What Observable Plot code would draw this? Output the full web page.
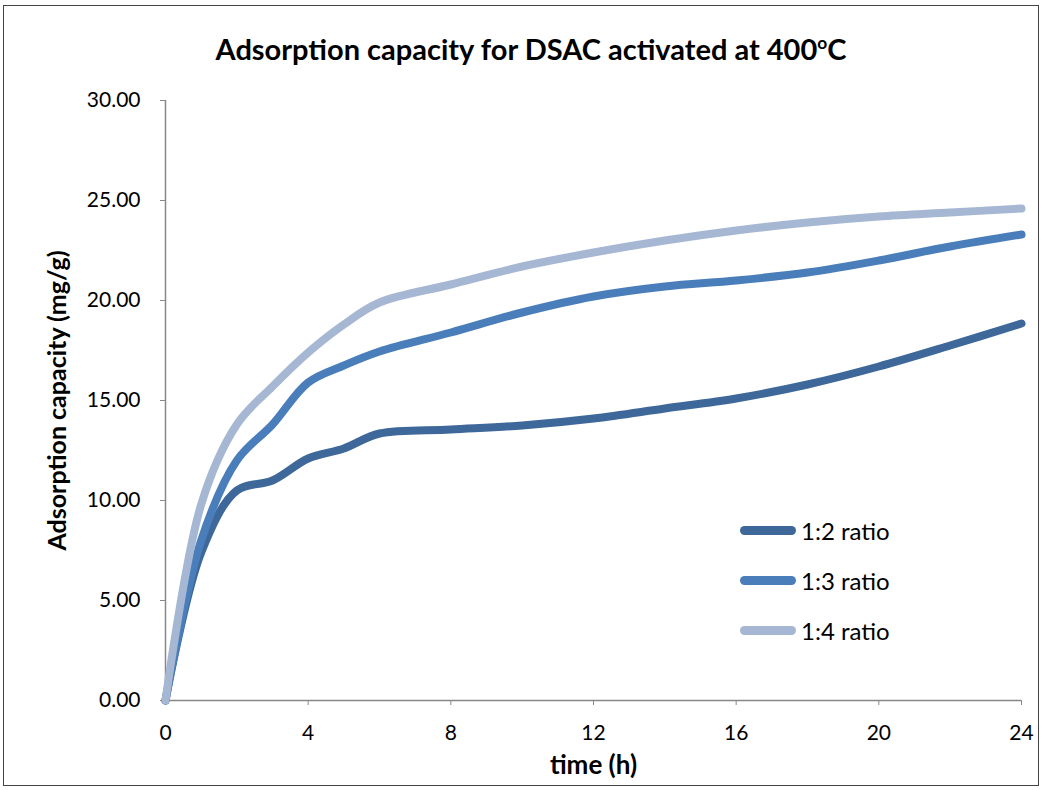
<!DOCTYPE html>
<html>
<head>
<meta charset="utf-8">
<script src="https://cdn.jsdelivr.net/npm/d3@7"></script>
<script src="https://cdn.jsdelivr.net/npm/@observablehq/plot@0.6"></script>
<style>
  html, body { margin: 0; padding: 0; background: #fff; }
  #wrap { position: relative; width: 1044px; height: 790px; font-family: Lato, "Open Sans", sans-serif; }
  #frame { position: absolute; left: 3px; top: 5px; width: 1036px; height: 781px; border: 1px solid #444; box-sizing: border-box; pointer-events: none; }
  #title { position: absolute; left: 0; width: 1062px; top: 31px; text-align: center; font-weight: bold; font-size: 29px; line-height: 36px; color: #000; }
  #title sup { font-size: 0.6em; vertical-align: 0.65em; line-height: 0; }
  #chart { position: absolute; left: 0; top: 0; }
  #legend { position: absolute; left: 740px; top: 505px; font-size: 24px; color: #000; }
  .item { display: flex; align-items: center; height: 50px; }
  .swatch { width: 56px; height: 9px; border-radius: 5px; margin-right: 5px; }
</style>
</head>
<body>
<div id="wrap">
  <div id="chart"></div>
  <div id="title">Adsorption capacity for DSAC activated at 400<sup>o</sup>C</div>
  <div id="legend"></div>
  <div id="frame"></div>
</div>
<script>
const time    = [0, 1, 2, 3, 4, 5, 6, 8, 10, 12, 14, 16, 18, 20, 22, 24];
const ratio12 = [0, 7.4, 10.5, 11.0, 12.1, 12.6, 13.35, 13.55, 13.75, 14.1, 14.6, 15.1, 15.8, 16.7, 17.75, 18.85];
const ratio13 = [0, 8.0, 12.0, 13.8, 15.9, 16.75, 17.45, 18.4, 19.4, 20.2, 20.7, 21.0, 21.4, 22.0, 22.7, 23.3];
const ratio14 = [0, 9.8, 13.8, 15.7, 17.4, 18.8, 19.9, 20.8, 21.7, 22.4, 23.0, 23.5, 23.9, 24.2, 24.4, 24.6];
const seriesNames = ["1:2 ratio", "1:3 ratio", "1:4 ratio"];
const seriesColors = ["#3d6899", "#4a7ebb", "#a6b7d4"];
const xTicks = [0, 4, 8, 12, 16, 20, 24];
const yTicks = [0, 5, 10, 15, 20, 25, 30];

const seriesValues = [ratio12, ratio13, ratio14];
const data = [];
seriesValues.forEach((vals, i) => {
  vals.forEach((v, j) => data.push({series: seriesNames[i], t: time[j], v}));
});

const font = "Lato, 'Open Sans', sans-serif";
const chart = Plot.plot({
  width: 1044,
  height: 790,
  marginLeft: 165,
  marginRight: 23,
  marginTop: 100,
  marginBottom: 90,
  style: { fontFamily: font, fontSize: "21px", color: "#000", background: "transparent" },
  x: { domain: [0, 24] },
  y: { domain: [0, 30] },
  color: { domain: seriesNames, range: seriesColors },
  marks: [
    Plot.axisY({ ticks: yTicks, tickFormat: d => d.toFixed(2), tickSize: 5, tickPadding: 20, stroke: "#888", fontSize: 21, label: null }),
    Plot.axisX({ ticks: xTicks, tickFormat: d => String(d), tickSize: 5, tickPadding: 20, stroke: "#888", fontSize: 21, label: null }),
    Plot.ruleX([0], { y1: 0, y2: 30, stroke: "#888", strokeWidth: 1.5 }),
    Plot.ruleY([0], { stroke: "#888", strokeWidth: 1.5 }),
    Plot.line(data, { x: "t", y: "v", z: "series", stroke: "series", strokeWidth: 8, curve: "catmull-rom", strokeLinecap: "round", strokeLinejoin: "round" }),
    Plot.text(["time (h)"], { frameAnchor: "bottom", textAnchor: "middle", dy: 73, fontWeight: "bold", fontSize: 26 }),
    Plot.text(["Adsorption capacity (mg/g)"], { frameAnchor: "left", textAnchor: "middle", dx: -108, rotate: -90, fontWeight: "bold", fontSize: 25 })
  ]
});
document.getElementById("chart").appendChild(chart);

const legend = document.getElementById("legend");
seriesNames.forEach((name, i) => {
  const item = document.createElement("div");
  item.className = "item";
  const sw = document.createElement("div");
  sw.className = "swatch";
  sw.style.background = seriesColors[i];
  const label = document.createElement("span");
  label.textContent = name;
  item.appendChild(sw);
  item.appendChild(label);
  legend.appendChild(item);
});
</script>
</body>
</html>
